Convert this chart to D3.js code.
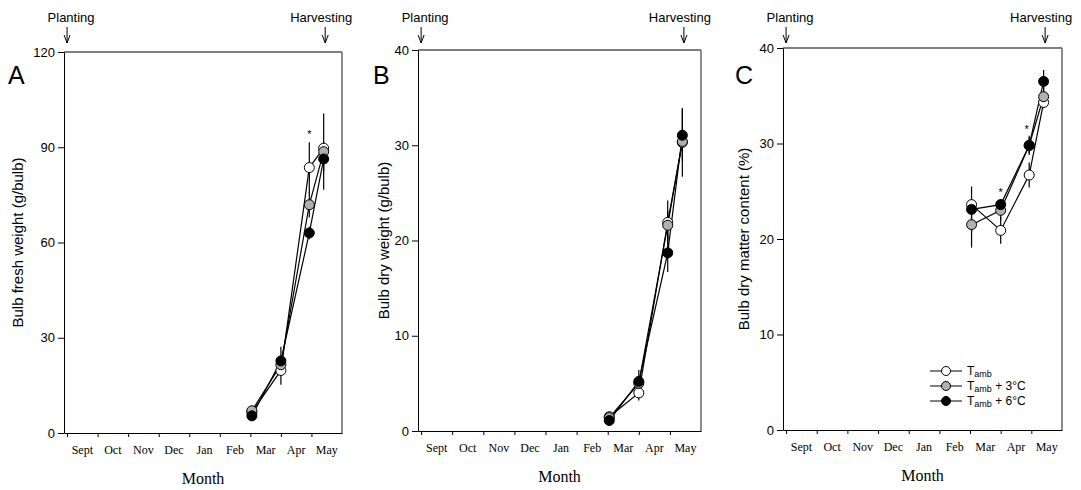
<!DOCTYPE html>
<html>
<head>
<meta charset="utf-8">
<script src="https://d3js.org/d3.v7.min.js"></script>
<style>
  body { margin: 0; background: #fff; }
  svg { display: block; }
</style>
</head>
<body>
<svg id="chart" width="1081" height="490"></svg>
<script>
// month index: 0 = start of Sept
var monthLabels = ['Sept','Oct','Nov','Dec','Jan','Feb','Mar','Apr','May'];
var sampleDates = [6.05, 7.0, 7.93, 8.4];
var plantingDate = 0.0;
var harvestDate = 8.45;

// Panel A: bulb fresh weight (g/bulb)
var freshAmb  = [6.5, 19.7, 83.6, 89.7];
var freshAmbErr = [0.6, 4.5, 8.0, 2.0];
var fresh3    = [7.0, 21.5, 71.9, 88.6];
var fresh3Err = [0.6, 2.0, 4.0, 12.0];
var fresh6    = [5.4, 22.7, 63.0, 86.3];
var fresh6Err = [0.6, 4.5, 2.0, 4.0];

// Panel B: bulb dry weight (g/bulb)
var dryAmb  = [1.5, 4.0, 21.9, 30.3];
var dryAmbErr = [0.2, 0.8, 2.3, 3.6];
var dry3    = [1.4, 5.0, 21.6, 30.4];
var dry3Err = [0.2, 0.6, 1.5, 1.0];
var dry6    = [1.1, 5.2, 18.7, 31.05];
var dry6Err = [0.2, 1.2, 2.0, 2.7];

// Panel C: bulb dry matter content (%)
var dmAmb  = [23.6, 20.9, 26.7, 34.3];
var dmAmbErr = [0.6, 1.4, 1.3, 0.6];
var dm3    = [21.5, 23.0, 29.8, 34.9];
var dm3Err = [2.4, 1.0, 0.8, 1.0];
var dm6    = [23.1, 23.6, 29.8, 36.5];
var dm6Err = [2.4, 0.6, 1.0, 1.2];

var seriesFill = ['#ffffff', '#b0b0b0', '#000000'];

var svg = d3.select('#chart');

function drawPanel(cfg) {
  var g = svg.append('g').attr('transform', `translate(${cfg.left},${cfg.top})`);
  var xScale = d3.scaleLinear().domain([-0.1, 9]).range([0, cfg.width]);
  var yScale = d3.scaleLinear().domain([0, cfg.ymax]).range([cfg.height, 0]);

  // frame
  g.append('line').attr('x1', 0).attr('x2', cfg.width).attr('y1', 0).attr('y2', 0)
    .style('stroke', '#555').style('stroke-width', 1.5);
  g.append('line').attr('x1', cfg.width).attr('x2', cfg.width).attr('y1', 0).attr('y2', cfg.height)
    .style('stroke', '#666').style('stroke-width', 1.5);

  // y axis
  var yAxis = g.append('g')
    .call(d3.axisLeft(yScale).tickValues(cfg.yticks).tickSize(6).tickSizeOuter(0));
  yAxis.selectAll('text').style('font-family', 'Liberation Sans, Arial, sans-serif')
    .style('font-size', '13px').attr('x', -9).attr('fill', '#000');
  yAxis.select('.domain').style('stroke', '#000');

  // x axis with month boundary ticks
  var xAxis = g.append('g').attr('transform', `translate(0,${cfg.height})`)
    .call(d3.axisBottom(xScale).tickValues(d3.range(0, 9)).tickSize(4).tickSizeOuter(0).tickFormat(''));
  xAxis.select('.domain').style('stroke', '#000');
  g.append('g').selectAll('text.month')
    .data(monthLabels)
    .enter()
    .append('text')
    .attr('x', (d, i) => xScale(i + 0.5))
    .attr('y', cfg.height + 21)
    .attr('text-anchor', 'middle')
    .style('font-family', 'Liberation Serif, Times New Roman, serif')
    .style('font-size', '12px')
    .text(d => d);

  // axis titles
  g.append('text')
    .attr('transform', 'rotate(-90)')
    .attr('x', -cfg.height / 2)
    .attr('y', cfg.ytitleX)
    .attr('text-anchor', 'middle')
    .style('font-family', 'Liberation Sans, Arial, sans-serif')
    .style('font-size', '15px')
    .text(cfg.ytitle);
  g.append('text')
    .attr('x', cfg.width / 2)
    .attr('y', cfg.height + 51)
    .attr('text-anchor', 'middle')
    .style('font-family', 'Liberation Serif, Times New Roman, serif')
    .style('font-size', '16px')
    .text('Month');

  // panel letter
  g.append('text')
    .attr('x', cfg.letterX)
    .attr('y', cfg.letterY)
    .style('font-family', 'Liberation Sans, Arial, sans-serif')
    .style('font-size', '25px')
    .text(cfg.letter);

  // planting / harvesting arrows
  [[plantingDate, 'Planting', 4], [harvestDate, 'Harvesting', -4]].forEach(function(a) {
    var ax = xScale(a[0]);
    g.append('text')
      .attr('x', ax + a[2])
      .attr('y', -cfg.top + 22)
      .attr('text-anchor', 'middle')
      .style('font-family', 'Liberation Sans, Arial, sans-serif')
      .style('font-size', '13px')
      .text(a[1]);
    g.append('path')
      .attr('d', `M${ax},${-cfg.top + 27}V${-cfg.top + 43}M${ax - 3},${-cfg.top + 35}L${ax},${-cfg.top + 43}L${ax + 3},${-cfg.top + 35}`)
      .style('fill', 'none').style('stroke', '#000').style('stroke-width', 1);
  });

  var line = d3.line()
    .x((d, i) => xScale(sampleDates[i]))
    .y(d => yScale(d));

  cfg.series.forEach(function(s, k) {
    g.append('path')
      .datum(s.values)
      .style('fill', 'none')
      .style('stroke', '#000')
      .style('stroke-width', 1.2)
      .attr('d', line);
    g.selectAll('line.err' + k)
      .data(s.values)
      .enter()
      .append('line')
      .attr('x1', (d, i) => xScale(sampleDates[i]))
      .attr('x2', (d, i) => xScale(sampleDates[i]))
      .attr('y1', (d, i) => yScale(d + s.err[i]))
      .attr('y2', (d, i) => yScale(d - s.err[i]))
      .style('stroke', '#000')
      .style('stroke-width', 1.2);
  });
  cfg.series.forEach(function(s, k) {
    g.selectAll('circle.s' + k)
      .data(s.values)
      .enter()
      .append('circle')
      .attr('cx', (d, i) => xScale(sampleDates[i]))
      .attr('cy', d => yScale(d))
      .attr('r', 5)
      .style('fill', seriesFill[k])
      .style('stroke', '#000')
      .style('stroke-width', 1);
  });

  // significance stars
  cfg.stars.forEach(function(st) {
    g.append('text')
      .attr('x', xScale(st[0]))
      .attr('y', yScale(st[1]) + 5)
      .attr('text-anchor', 'middle')
      .style('fill', '#000')
      .style('font-family', 'Liberation Sans, Arial, sans-serif')
      .style('font-size', '11px')
      .text('*');
  });

  return { g: g, xScale: xScale, yScale: yScale };
}

drawPanel({
  left: 64, top: 52, width: 278, height: 381, ymax: 120, yticks: [0, 30, 60, 90, 120],
  ytitle: 'Bulb fresh weight (g/bulb)', ytitleX: -41, letter: 'A', letterX: -56, letterY: 32,
  series: [
    { values: freshAmb, err: freshAmbErr },
    { values: fresh3, err: fresh3Err },
    { values: fresh6, err: fresh6Err }
  ],
  stars: [[7.93, 94.5]]
});

drawPanel({
  left: 418, top: 50, width: 283, height: 381, ymax: 40, yticks: [0, 10, 20, 30, 40],
  ytitle: 'Bulb dry weight (g/bulb)', ytitleX: -29, letter: 'B', letterX: -45, letterY: 34,
  series: [
    { values: dryAmb, err: dryAmbErr },
    { values: dry3, err: dry3Err },
    { values: dry6, err: dry6Err }
  ],
  stars: []
});

var pc = drawPanel({
  left: 783, top: 48, width: 279, height: 382, ymax: 40, yticks: [0, 10, 20, 30, 40],
  ytitle: 'Bulb dry matter content (%)', ytitleX: -34, letter: 'C', letterX: -48, letterY: 36,
  series: [
    { values: dmAmb, err: dmAmbErr },
    { values: dm3, err: dm3Err },
    { values: dm6, err: dm6Err }
  ],
  stars: [[7.0, 25.0], [7.85, 31.6]]
});

// legend in panel C
var legendLabels = ['', ' + 3\u00B0C', ' + 6\u00B0C'];
var legend = pc.g.append('g').attr('transform', 'translate(147,323)');
legendLabels.forEach(function(lab, i) {
  var row = legend.append('g').attr('transform', `translate(0,${i * 15})`);
  row.append('line').attr('x1', 0).attr('x2', 32).attr('y1', 0).attr('y2', 0)
    .style('stroke', '#000').style('stroke-width', 1);
  row.append('circle').attr('cx', 16).attr('cy', 0).attr('r', 4.5)
    .style('fill', seriesFill[i]).style('stroke', '#000');
  var t = row.append('text').attr('x', 37).attr('y', 4)
    .style('font-family', 'Liberation Sans, Arial, sans-serif')
    .style('font-size', '12px');
  t.append('tspan').text('T');
  t.append('tspan').style('font-size', '9px').attr('dy', 2).text('amb');
  t.append('tspan').attr('dy', -2).text(lab);
});
</script>
</body>
</html>
